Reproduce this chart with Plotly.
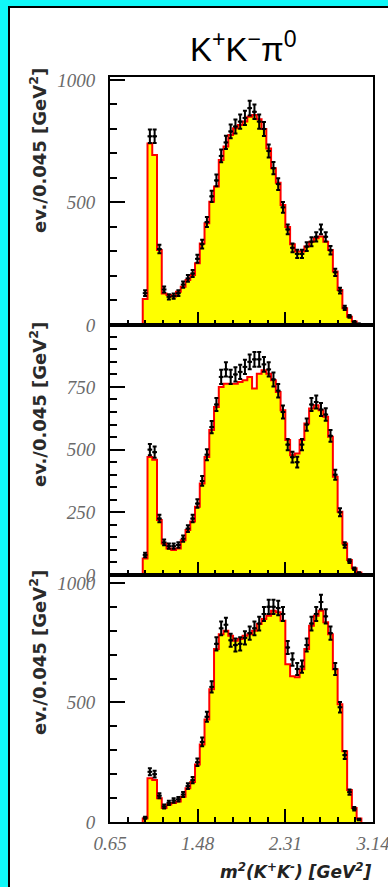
import numpy as np
import plotly.graph_objects as go

# ---------------- data ----------------
bin_start = 0.96
bin_width = 0.045

mc_top = [106, 741, 694, 306, 129, 122, 116, 136, 156, 184, 204, 252, 333, 415, 503, 565,
          673, 728, 775, 803, 816, 830, 850, 857, 840, 800, 720, 640, 580, 490, 400, 330,
          300, 300, 320, 340, 354, 361, 340, 306, 218, 143, 68, 34, 14, 3]
data_top = [130, 770, 770, 310, 145, 115, 118, 130, 165, 190, 210, 270, 330, 420, 525, 590,
            690, 745, 790, 810, 830, 845, 885, 870, 830, 800, 710, 640, 575, 480, 390, 315,
            290, 290, 320, 340, 360, 390, 360, 305, 215, 140, 70, 35, 12, 4]

mc_mid = [66, 471, 460, 219, 126, 106, 100, 106, 139, 179, 213, 272, 365, 471, 578, 670,
          750, 763, 763, 763, 770, 777, 790, 744, 803, 817, 803, 777, 730, 657, 538, 478,
          485, 538, 604, 664, 677, 657, 631, 551, 392, 252, 126, 60, 27, 10]
data_mid = [80, 500, 490, 225, 130, 115, 115, 120, 145, 185, 225, 285, 375, 480, 590, 680,
            790, 820, 790, 800, 810, 830, 850, 860, 860, 840, 820, 780, 735, 650, 520, 470,
            450, 520, 600, 680, 690, 660, 640, 555, 400, 250, 120, 55, 25, 8]

mc_bot = [15, 183, 176, 99, 59, 73, 79, 86, 106, 141, 167, 240, 324, 429, 555, 723,
          785, 800, 779, 758, 765, 779, 785, 800, 828, 849, 863, 884, 877, 842, 660, 610,
          605, 639, 723, 821, 863, 884, 835, 785, 639, 492, 296, 134, 59, 15]
data_bot = [18, 210, 200, 110, 65, 80, 90, 95, 115, 150, 175, 250, 335, 440, 565, 745,
            810, 825, 760, 740, 745, 770, 790, 810, 830, 870, 900, 900, 895, 870, 730, 680,
            640, 650, 740, 830, 870, 920, 860, 790, 640, 480, 280, 125, 55, 10]

x_ticks = [0.65, 1.48, 2.31, 3.14]
x_ticktext = ["0.65", "1.48", "2.31", "3.14"]
y_ticks_top = [0, 500, 1000]
y_ticks_mid = [0, 250, 500, 750]
y_ticks_bot = [0, 500, 1000]

title_text = "K<sup>+</sup>K<sup>\u2212</sup>\u03c0<sup>0</sup>"
y_title = "<b>ev./0.045 [GeV<sup>2</sup>]</b>"
x_title = "<b><i>m<sup>2</sup>(K<sup>+</sup>K<sup>-</sup>) [GeV<sup>2</sup>]</i></b>"

# ---------------- layout geometry ----------------
W, H = 388, 887
ML, MR, MT, MB = 110, 15, 77, 65
PW, PH = W - ML - MR, H - MT - MB


def px_x(px):
    return (px - ML) / PW


def px_y(py):
    return (H - MB - py) / PH


panels = [
    dict(mc=mc_top, data=data_top, ticks=y_ticks_top, minor=100, rng=[0, 1012], top=77, bot=325),
    dict(mc=mc_mid, data=data_mid, ticks=y_ticks_mid, minor=50, rng=[0, 997], top=325, bot=575),
    dict(mc=mc_bot, data=data_bot, ticks=y_ticks_bot, minor=100, rng=[0, 1033], top=575, bot=822),
]

fig = go.Figure()
tick_font = dict(family="Liberation Serif", size=19, color="#6a6a6a", style="italic")

for i, p in enumerate(panels):
    n = len(p["mc"])
    edges = bin_start + bin_width * np.arange(n + 1)
    centers = edges[:-1] + bin_width / 2
    xs = np.concatenate([[edges[0]], edges[:-1], [edges[-1]]])
    ys = np.concatenate([[0], p["mc"], [0]])
    suffix = "" if i == 0 else str(i + 1)
    fig.add_trace(go.Scatter(
        x=xs, y=ys, mode="lines", line=dict(shape="hv", color="#ff0000", width=2),
        fill="tozeroy", fillcolor="#ffff00", xaxis="x" + suffix, yaxis="y" + suffix,
        showlegend=False, hoverinfo="skip"))
    d = np.array(p["data"], dtype=float)
    fig.add_trace(go.Scatter(
        x=centers, y=d, mode="markers",
        marker=dict(color="black", size=3),
        error_y=dict(type="data", array=np.sqrt(d), color="black", thickness=2, width=2),
        error_x=dict(type="constant", value=bin_width / 2, color="black", thickness=2, width=0),
        xaxis="x" + suffix, yaxis="y" + suffix, showlegend=False))

    dom = [px_y(p["bot"]), px_y(p["top"])]
    fig.layout["yaxis" + suffix] = dict(
        domain=dom, range=p["rng"], anchor="x" + suffix, automargin=False,
        tickmode="array", tickvals=p["ticks"], ticks="inside", ticklen=15, tickwidth=1.5,
        tickcolor="black", tickfont=tick_font, ticklabelstandoff=9,
        minor=dict(ticks="inside", ticklen=7, tickwidth=1.5, tickcolor="black",
                   tickmode="linear", tick0=0, dtick=p["minor"]),
        showline=True, linecolor="black", linewidth=2, mirror=True,
        showgrid=False, zeroline=False)
    fig.layout["xaxis" + suffix] = dict(
        domain=[0, 1], range=[0.65, 3.14], anchor="y" + suffix, automargin=False,
        tickmode="array", tickvals=x_ticks, ticktext=x_ticktext,
        ticks="inside", ticklen=13, tickwidth=1.5, tickcolor="black",
        showticklabels=(i == 2), tickfont=tick_font, ticklabelstandoff=3,
        ticklabeloverflow="allow",
        minor=dict(ticks="inside", ticklen=5, tickwidth=1.5, tickcolor="black",
                   tickmode="linear", tick0=0.65, dtick=0.166),
        showline=True, linecolor="black", linewidth=2, mirror=True,
        showgrid=False, zeroline=False)
    if i > 0:
        fig.layout["xaxis" + suffix]["matches"] = "x"

annotations = [
    dict(text=title_text, x=px_x(243), y=px_y(47), xref="paper", yref="paper",
         showarrow=False, xanchor="center", yanchor="middle",
         font=dict(family="Liberation Sans", size=33, color="black")),
    dict(text=x_title, x=1.0, y=px_y(871), xref="paper", yref="paper",
         showarrow=False, xanchor="right", yanchor="middle",
         font=dict(family="DejaVu Sans", size=17, color="#222222")),
]
for cy in (151, 405, 653):
    annotations.append(dict(
        text=y_title, x=px_x(38), y=px_y(cy), xref="paper", yref="paper",
        showarrow=False, textangle=-90, xanchor="center", yanchor="middle",
        font=dict(family="DejaVu Sans", size=18, color="#2a2a2a")))

fig.update_layout(
    width=W, height=H, margin=dict(l=ML, r=MR, t=MT, b=MB, pad=0, autoexpand=False),
    paper_bgcolor="#10f8f8", plot_bgcolor="rgba(0,0,0,0)",
    annotations=annotations,
    shapes=[dict(type="rect", xref="paper", yref="paper",
                 x0=px_x(9), x1=px_x(420), y0=px_y(920), y1=px_y(7),
                 line=dict(color="black", width=2), fillcolor="white", layer="below")],
)

fig.write_html("out.html", config={"displayModeBar": False},
               post_script="document.body.style.margin='0';document.body.style.overflow='hidden';")
